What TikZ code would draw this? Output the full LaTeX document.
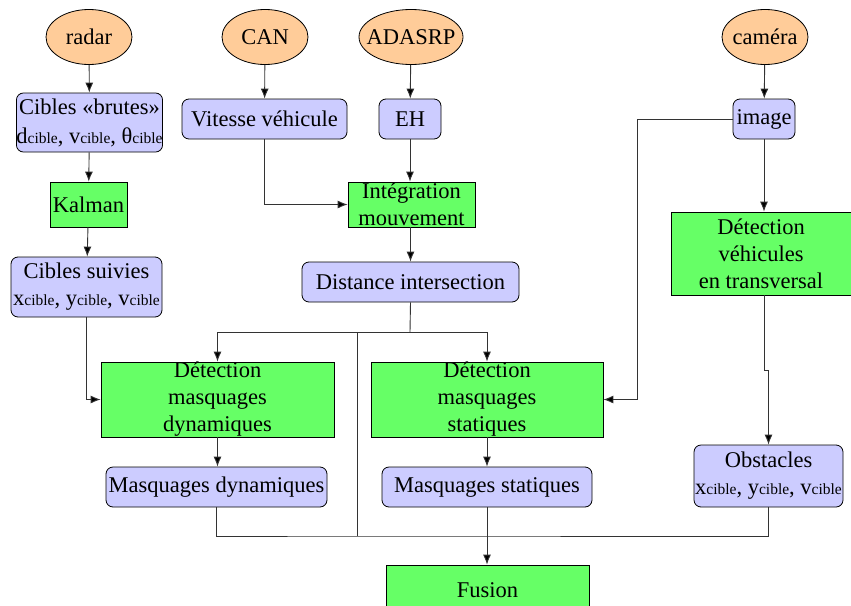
\documentclass[tikz,border=0pt]{standalone}
\usepackage{fontspec}
\setmainfont{Liberation Serif}
\usetikzlibrary{shapes.geometric,arrows.meta}
\definecolor{peach}{HTML}{FFCC99}
\definecolor{lav}{HTML}{CCCCFF}
\definecolor{grn}{HTML}{66FF66}
\definecolor{lin}{HTML}{333333}
\newcommand{\ci}[1]{{\fontsize{22.5}{27}\selectfont #1}{\fontsize{15.5}{27}\selectfont cible}}
\begin{document}
\begin{tikzpicture}[x=1pt,y=-1pt,
  every node/.style={font=\fontsize{22.5}{27}\selectfont, align=center, inner sep=0pt, line width=0.8pt},
  src/.style={ellipse, draw=black, fill=peach, inner xsep=-10pt},
  data/.style={rectangle, rounded corners=7pt, draw=black, fill=lav},
  proc/.style={rectangle, draw=black, fill=grn},
  conn/.style={draw=lin, line width=0.9pt},
  arr/.style={conn, -{Latex[length=10pt,width=8pt,fill=black]}}]
\useasboundingbox (0,0) rectangle (851,605);
\clip (0,0) rectangle (851,605);
% sources
\node[src, minimum width=86pt, minimum height=55pt] (radar) at (89,37) {radar};
\node[src, minimum width=86pt, minimum height=55pt] (can) at (265,37) {CAN};
\node[src, minimum width=104pt, minimum height=55pt] (adasrp) at (411,37) {ADASRP};
\node[src, minimum width=86pt, minimum height=55pt] (camera) at (765,37) {caméra};
% data
\node[data, minimum width=143pt, minimum height=59pt] (brutes) at (89.5,122.5) {Cibles «brutes»\\[2pt]\ci{d}, \ci{v}, \ci{θ}};
\node[data, minimum width=165pt, minimum height=40pt] (vitesse) at (264.5,119) {Vitesse véhicule};
\node[data, minimum width=62pt, minimum height=40pt] (eh) at (410,119) {EH};
\node[data, minimum width=62pt, minimum height=40pt] (image) at (764,119) {image};
\node[proc, minimum width=77pt, minimum height=45pt] (kalman) at (88.5,204.5) {Kalman};
\node[proc, minimum width=127pt, minimum height=45pt] (integ) at (411.5,204.5) {Intégration\\mouvement};
\node[data, minimum width=151pt, minimum height=60pt] (suivies) at (86.5,287) {Cibles suivies\\\ci{x}, \ci{y}, \ci{v}};
\node[data, minimum width=217pt, minimum height=40pt] (distance) at (410.5,282) {Distance intersection};
\node[proc, minimum width=180pt, minimum height=83pt] (dvt) at (761,253.5) {Détection\\véhicules\\en transversal};
\node[proc, minimum width=233pt, minimum height=75pt] (dmd) at (217.5,399.5) {Détection\\masquages\\dynamiques};
\node[proc, minimum width=232pt, minimum height=75pt] (dms) at (487,399.5) {Détection\\masquages\\statiques};
\node[data, minimum width=221pt, minimum height=40pt] (md) at (216.5,487) {Masquages dynamiques};
\node[data, minimum width=210pt, minimum height=40pt] (ms) at (487,487) {Masquages statiques};
\node[data, minimum width=149pt, minimum height=62pt] (obst) at (768.5,476) {Obstacles\\\ci{x}, \ci{y}, \ci{v}};
\node[proc, minimum width=203pt, minimum height=50pt] (fusion) at (487.5,590) {Fusion};
% helper coordinates
\coordinate (j) at (410,332);
\coordinate (jv) at (357,332);
\coordinate (fy) at (357,536);
\coordinate (ic) at (637,119);
% connectors
\draw[arr] (radar) -- (brutes);
\draw[arr] (brutes) -- (kalman);
\draw[arr] (kalman) -- (suivies);
\draw[arr] (suivies.south) |- (dmd.west);
\draw[arr] (can) -- (vitesse);
\draw[arr] (vitesse.south) |- (integ.west);
\draw[arr] (adasrp) -- (eh);
\draw[arr] (eh) -- (eh |- integ.north);
\draw[arr] (integ.south -| distance) -- (distance);
\draw[conn] (distance.south) -- (j);
\draw[arr] (j) -| (dmd.north);
\draw[arr] (j) -| (dms.north);
\draw[conn] (jv) -- (fy);
\draw[arr] (dmd) -- (md.north -| dmd);
\draw[arr] (dms) -- (ms);
\draw[conn] (md.south) |- (fy) -| (obst.south);
\draw[arr] (ms) -- (fusion.north -| ms);
\draw[arr] (camera) -- (image);
\draw[arr] (image) -- (image |- dvt.north);
\draw[arr] (image.west) -- (ic) |- (dms.east);
\draw[arr] (dvt.south -| image) -- ++(0,75) -| (obst.north);
\end{tikzpicture}
\end{document}
